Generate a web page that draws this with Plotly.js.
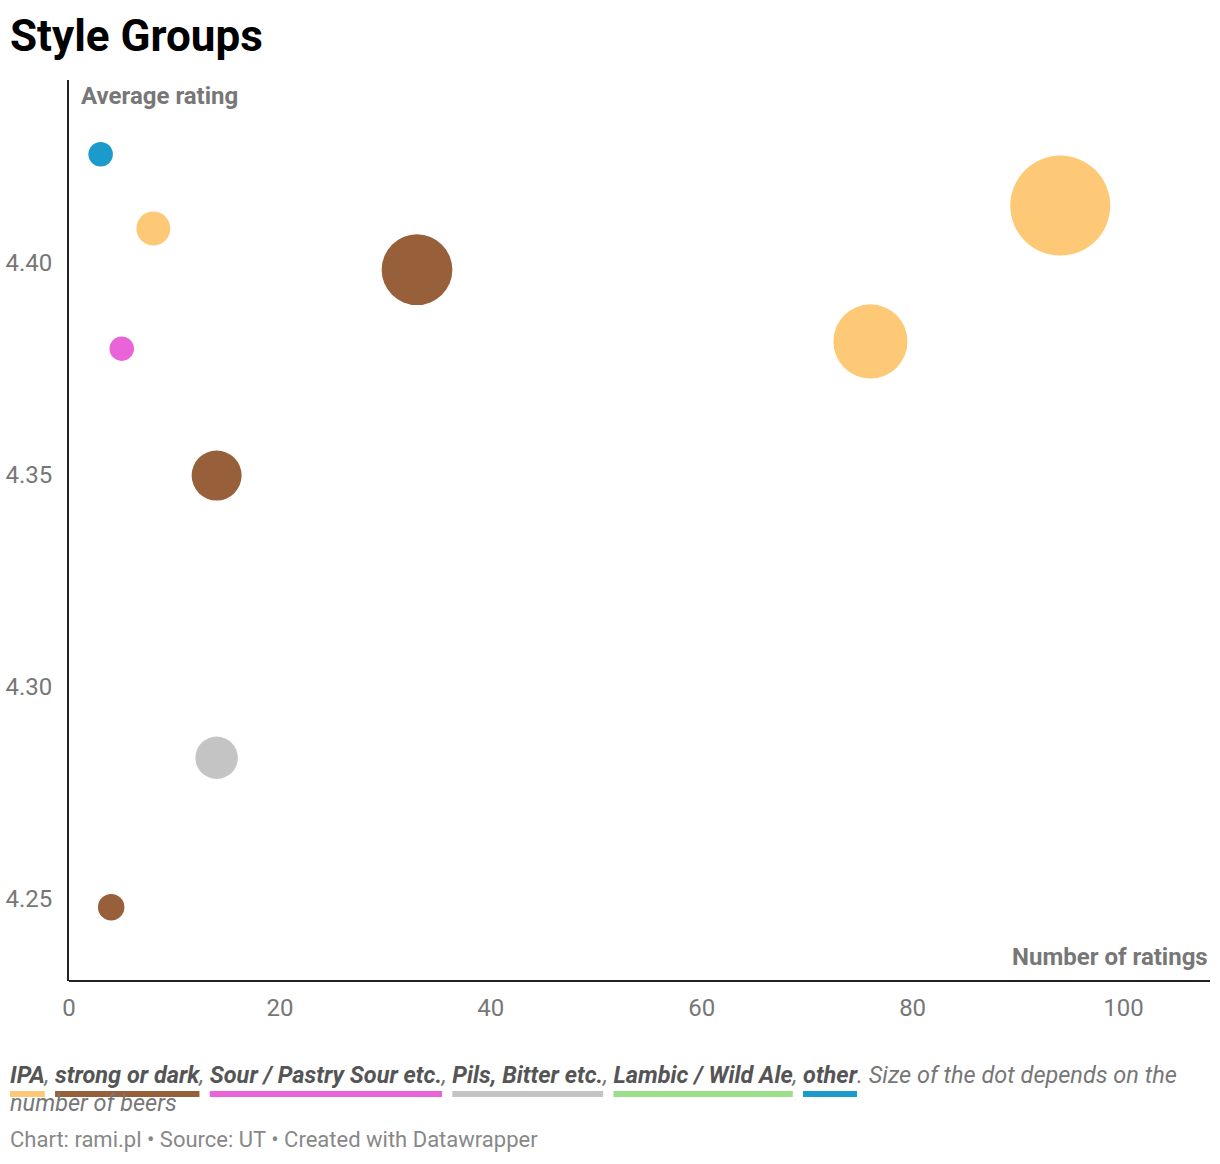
<!DOCTYPE html>
<html>
<head>
<meta charset="utf-8">
<script src="https://cdn.plot.ly/plotly-3.0.1.min.js"></script>
<style>
  body { margin: 0; background: #fff; font-family: Roboto, sans-serif; }
  #chart { width: 1220px; height: 1060px; }
  .key { position: absolute; left: 10px; top: 1061px; width: 1200px; font-size: 23.5px;
         font-style: italic; color: #777; line-height: 28px; }
  .key b { color: #555; text-decoration: underline 6px; text-underline-offset: 8px;
           text-decoration-skip-ink: none; }
  .credit { position: absolute; left: 10px; top: 1127px; font-size: 22px; color: #888; }
</style>
</head>
<body>
<div id="chart"></div>
<div class="key" id="key"></div>
<div class="credit">Chart: rami.pl • Source: UT • Created with Datawrapper</div>
<script>
/* ---------------------------- data ---------------------------- */
const GROUPS = ["IPA", "strong or dark", "Sour / Pastry Sour etc.", "Pils, Bitter etc.", "Lambic / Wild Ale", "other"];
const GROUP_COLORS = ["#fec976", "#98603a", "#ea63d8", "#c4c4c4", "#9bdf8a", "#1a9bcc"];

// one entry per dot
const dotGroup   = ["other", "IPA", "Sour / Pastry Sour etc.", "strong or dark", "strong or dark", "Pils, Bitter etc.", "strong or dark", "IPA", "IPA"];
const dotRatings = [3, 8, 5, 33, 14, 14, 4, 76, 94];
const dotAverage = [4.4255, 4.408, 4.3797, 4.3983, 4.3498, 4.2833, 4.2481, 4.3814, 4.4134];
const dotBeers   = [1.2, 2.3, 1.2, 10, 5, 3.6, 1.4, 11, 20];

/* ---------------------------- chart ---------------------------- */
const traces = GROUPS.map((g, gi) => {
  const idx = dotGroup.map((d, i) => (d === g ? i : -1)).filter((i) => i >= 0);
  return {
    type: "scatter",
    mode: "markers",
    name: g,
    x: idx.map((i) => dotRatings[i]),
    y: idx.map((i) => dotAverage[i]),
    marker: {
      color: GROUP_COLORS[gi],
      size: idx.map((i) => 100 * Math.sqrt(dotBeers[i] / 20)),
      line: { width: 0 },
      opacity: 1,
    },
    hoverinfo: "x+y+name",
  };
});

const greyFont = { family: "Roboto, sans-serif", size: 24, color: "#777" };

const layout = {
  width: 1220,
  height: 1060,
  paper_bgcolor: "#fff",
  plot_bgcolor: "#fff",
  showlegend: false,
  margin: { l: 69, r: 10, t: 80, b: 79 },
  font: { family: "Roboto, sans-serif" },
  title: {
    text: "<b>Style Groups</b>",
    x: 10 / 1220,
    xref: "container",
    xanchor: "left",
    y: 1 - 36 / 1060,
    yref: "container",
    yanchor: "middle",
    font: { family: "Roboto, sans-serif", size: 44, color: "#000" },
  },
  xaxis: {
    range: [0, 108.2],
    tickvals: [0, 20, 40, 60, 80, 100],
    showgrid: false,
    zeroline: false,
    showline: false,
    ticks: "",
    tickfont: greyFont,
    ticklabelstandoff: 10,
  },
  yaxis: {
    range: [4.2307, 4.443],
    tickvals: [4.25, 4.3, 4.35, 4.4],
    tickformat: ".2f",
    showgrid: false,
    zeroline: false,
    showline: true,
    linecolor: "#222",
    linewidth: 2,
    ticks: "",
    tickfont: greyFont,
    ticklabelstandoff: 10,
  },
  shapes: [
    { type: "line", xref: "paper", yref: "paper", x0: 0, x1: 1, y0: 0, y1: 0,
      line: { color: "#222", width: 2 } },
  ],
  annotations: [
    { xref: "paper", yref: "paper", x: 0.009, y: 1, xanchor: "left", yanchor: "top",
      yshift: 0, text: "<b>Average rating</b>", showarrow: false,
      font: { family: "Roboto, sans-serif", size: 24, color: "#777" } },
    { xref: "paper", yref: "paper", x: 1, y: 0, xanchor: "right", yanchor: "bottom",
      yshift: 8, text: "<b>Number of ratings</b>", showarrow: false,
      font: { family: "Roboto, sans-serif", size: 24, color: "#777" } },
  ],
};

Plotly.newPlot("chart", traces, layout, { displayModeBar: false, staticPlot: true });

/* ---------------------------- key ---------------------------- */
document.getElementById("key").innerHTML =
  GROUPS.map((g, i) => `<b style="text-decoration-color:${GROUP_COLORS[i]}">${g}</b>`).join(", ") +
  ". Size of the dot depends on the number of beers";
</script>
</body>
</html>
